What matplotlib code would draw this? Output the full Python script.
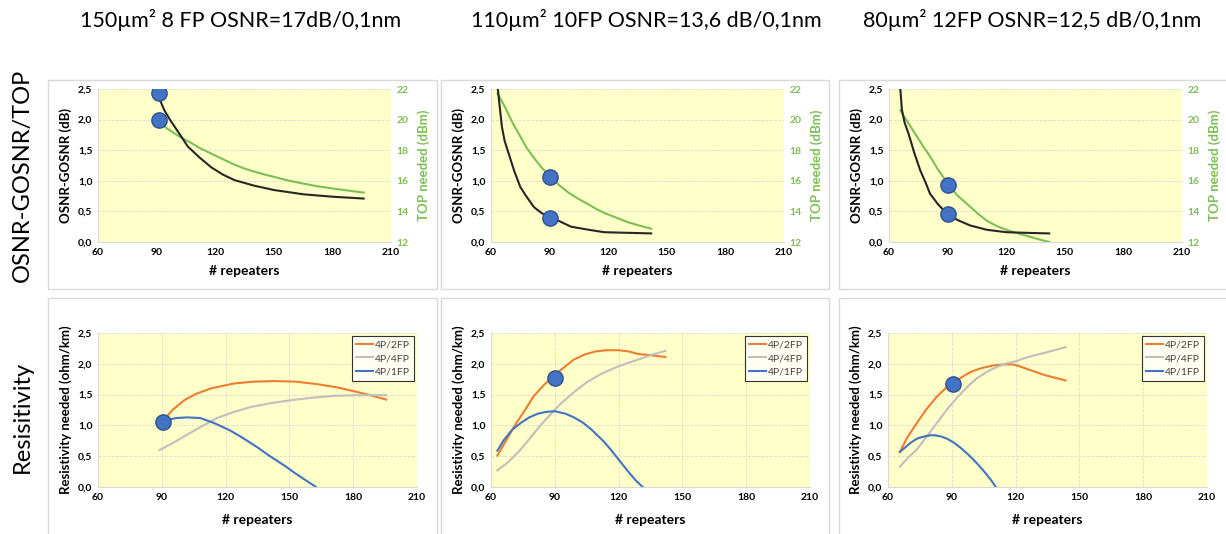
import matplotlib.pyplot as plt
from matplotlib.patches import Rectangle
from matplotlib.ticker import FuncFormatter

plt.rcParams['font.family'] = ['Lato', 'DejaVu Sans']

titles = ['150µm² 8 FP OSNR=17dB/0,1nm',
          '110µm² 10FP OSNR=13,6 dB/0,1nm',
          '80µm² 12FP OSNR=12,5 dB/0,1nm']

# top row: OSNR-GOSNR (black, left axis) and TOP needed (green, right axis)
osnr_x = [
    [91, 92, 94, 97, 101, 106, 112, 118, 124, 130, 140, 150, 165, 180, 196],
    [63.5, 64.5, 65.6, 67, 69, 72, 75, 78, 82, 86, 90.5, 95, 101, 110, 118, 130, 142],
    [65.8, 66.6, 68, 70, 73, 76, 79, 81, 85, 89.7, 95, 101.6, 110, 120, 130, 142],
]
osnr_y = [
    [2.35, 2.30, 2.15, 1.99, 1.80, 1.56, 1.38, 1.22, 1.10, 1.01, 0.92, 0.85, 0.78, 0.74, 0.71],
    [2.50, 2.20, 1.88, 1.65, 1.45, 1.15, 0.90, 0.75, 0.57, 0.47, 0.41, 0.34, 0.25, 0.20, 0.16, 0.15, 0.14],
    [2.50, 2.16, 1.95, 1.77, 1.45, 1.17, 0.95, 0.79, 0.62, 0.46, 0.36, 0.27, 0.20, 0.16, 0.15, 0.14],
]
top_x = [
    [92, 95, 98, 101, 105, 108, 112, 116, 120, 125, 130, 135, 140, 145, 150, 158, 165, 172, 180, 188, 196],
    [63.4, 66, 68, 71, 75, 78, 82, 86, 90.5, 95, 100, 105, 110, 114, 118, 124, 130, 136, 142],
    [65.8, 68, 70, 72.5, 75, 78, 81, 85, 89.7, 95, 101.6, 106, 110, 115, 120, 125, 130, 136, 142],
]
top_y = [
    [19.75, 19.45, 19.2, 18.95, 18.66, 18.45, 18.15, 17.9, 17.65, 17.35, 17.05, 16.8, 16.6, 16.42,
     16.26, 16.0, 15.82, 15.65, 15.5, 15.36, 15.23],
    [21.7, 21.1, 20.6, 19.8, 18.9, 18.2, 17.5, 16.85, 16.26, 15.7, 15.2, 14.8, 14.45, 14.15, 13.9,
     13.6, 13.3, 13.07, 12.87],
    [20.6, 20.15, 19.75, 19.25, 18.75, 18.15, 17.6, 16.75, 15.9, 15.05, 14.3, 13.8, 13.4, 13.05,
     12.8, 12.6, 12.42, 12.2, 12.0],
]
# blue markers (left-axis units)
top_dot_x = [[91, 91], [90, 90], [90, 90]]
top_dot_y = [[2.43, 1.99], [1.07, 0.39], [0.93, 0.45]]

# bottom row: resistivity needed
res_labels = ['4P/2FP', '4P/4FP', '4P/1FP']
res_colors = ['#ED7D31', '#BFBFBF', '#4472C4']
res_x = [
    [
        [91, 95, 100.6, 106, 113, 124, 133, 143, 153, 163, 172, 181, 188, 195.5],
        [89, 95, 100.4, 108, 116, 124, 132, 141, 151, 161, 171, 181, 187, 195.5],
        [92.5, 97, 102, 108, 114.5, 122, 127, 132, 136, 140, 144, 148, 152, 155, 159, 162.5],
    ],
    [
        [63, 67, 71, 76, 80, 85, 90, 95, 99, 104, 109, 114, 120, 125, 129, 135, 142],
        [63, 68, 74, 79, 83, 88, 93, 99, 105, 112, 120, 125, 131, 136, 142],
        [63, 66, 70, 74, 78, 82, 86, 90, 95, 99, 103, 107, 110, 113, 116, 119, 122, 125, 128, 131.3],
    ],
    [
        [65.6, 69, 73.6, 78, 83, 87, 90.4, 95, 99, 104, 109, 114, 118.4, 121, 125, 130, 134.4, 143.5],
        [65.6, 69, 73.6, 78, 83, 88, 93, 98, 102, 107, 112, 116, 120, 124, 128, 135, 143.5],
        [65.6, 68, 70, 72, 74, 77, 80, 82, 85, 88, 91, 94, 97, 100, 103, 106, 108.5, 110.7],
    ],
]
res_y = [
    [
        [1.09, 1.25, 1.41, 1.51, 1.60, 1.68, 1.71, 1.72, 1.71, 1.67, 1.62, 1.55, 1.49, 1.42],
        [0.60, 0.71, 0.82, 0.97, 1.12, 1.22, 1.30, 1.36, 1.41, 1.45, 1.48, 1.49, 1.49, 1.49],
        [1.09, 1.12, 1.13, 1.12, 1.04, 0.92, 0.82, 0.71, 0.62, 0.52, 0.43, 0.34, 0.24, 0.17, 0.08, 0.0],
    ],
    [
        [0.51, 0.75, 0.99, 1.25, 1.47, 1.66, 1.82, 1.96, 2.07, 2.15, 2.20, 2.22, 2.22, 2.20, 2.16, 2.14, 2.11],
        [0.27, 0.40, 0.61, 0.82, 0.99, 1.18, 1.36, 1.54, 1.70, 1.84, 1.96, 2.02, 2.09, 2.15, 2.21],
        [0.59, 0.76, 0.93, 1.04, 1.13, 1.19, 1.22, 1.23, 1.19, 1.13, 1.05, 0.94, 0.84, 0.74, 0.62,
         0.49, 0.36, 0.23, 0.11, 0.0],
    ],
    [
        [0.57, 0.80, 1.04, 1.26, 1.47, 1.60, 1.68, 1.79, 1.87, 1.93, 1.97, 1.99, 1.99, 1.97, 1.92, 1.86, 1.81, 1.73],
        [0.33, 0.46, 0.61, 0.81, 1.04, 1.27, 1.47, 1.65, 1.77, 1.88, 1.96, 2.01, 2.04, 2.09, 2.13, 2.19, 2.27],
        [0.57, 0.64, 0.70, 0.75, 0.79, 0.82, 0.84, 0.84, 0.82, 0.78, 0.72, 0.64, 0.55, 0.45, 0.34, 0.22, 0.11, 0.0],
    ],
]
res_dot_x = [90.5, 90.1, 90.7]
res_dot_y = [1.05, 1.77, 1.67]

W, H = 1226, 534
yellow = '#FFFFC9'
green = '#7CBF55'
dot_face = '#4472C4'
dot_edge = '#2F528F'
comma = FuncFormatter(lambda v, p: f'{v:.1f}'.replace('.', ','))

fig = plt.figure(figsize=(W / 100, H / 100), dpi=100)


def box(x0, y0, x1, y1):
    fig.patches.append(Rectangle((x0 / W, 1 - y1 / H), (x1 - x0) / W, (y1 - y0) / H,
                                 transform=fig.transFigure, fill=False,
                                 edgecolor='#D9D9D9', linewidth=1.0))


def style(ax, pad):
    ax.set_xlim(60, 210)
    ax.set_xticks([60, 90, 120, 150, 180, 210])
    ax.set_ylim(0, 2.5)
    ax.set_yticks([0, 0.5, 1.0, 1.5, 2.0, 2.5])
    ax.yaxis.set_major_formatter(comma)
    for s in ['top', 'right']:
        ax.spines[s].set_visible(False)
    for s in ['left', 'bottom']:
        ax.spines[s].set_color('#D9D9D9')
    ax.tick_params(length=0, labelsize=7.5, pad=4)
    for lab in ax.get_xticklabels() + ax.get_yticklabels():
        lab.set_fontweight('bold')
    ax.set_xlabel('# repeaters', fontsize=10, fontweight='bold', labelpad=pad)


top_x0 = [98, 491, 889]
bot_x0 = [98, 491, 888]
panel_x = [(48, 437), (441, 829), (839, 1240)]
title_cx = [241, 646, 1032]

for i in range(3):
    box(panel_x[i][0], 80, panel_x[i][1], 289)
    box(panel_x[i][0], 298, panel_x[i][1], 560)
    fig.text(title_cx[i] / W, 1 - 20 / H, titles[i], ha='center', va='center', fontsize=15.5)

    # top chart
    ax = fig.add_axes([top_x0[i] / W, 1 - 242 / H, 293 / W, 153 / H])
    ax2 = ax.twinx()
    ax.set_zorder(ax2.get_zorder() + 1)
    ax.patch.set_visible(False)
    ax2.patch.set_visible(True)
    ax2.set_facecolor(yellow)
    style(ax, 6)
    ax2.set_ylim(12, 22)
    ax2.set_yticks([12, 14, 16, 18, 20, 22])
    ax2.tick_params(length=0, labelsize=7.5, labelcolor=green, pad=4)
    for lab in ax2.get_yticklabels():
        lab.set_fontweight('bold')
    for s in ax2.spines.values():
        s.set_visible(False)
    ax2.grid(True, color='#D9D9D9', linestyle='--', linewidth=0.6)
    ax2.plot(top_x[i], top_y[i], color=green, linewidth=1.5)
    ax.plot(osnr_x[i], osnr_y[i], color='#262626', linewidth=1.5)
    ax.plot(top_dot_x[i], top_dot_y[i], 'o', markersize=11, markerfacecolor=dot_face,
            markeredgecolor=dot_edge, markeredgewidth=1, linestyle='none')
    ax.set_ylabel('OSNR-GOSNR (dB)', fontsize=9.5, fontweight='bold', labelpad=4)
    ax2.set_ylabel('TOP needed (dBm)', fontsize=9.5, fontweight='bold', color=green, labelpad=6)

    # bottom chart
    bx = fig.add_axes([bot_x0[i] / W, 1 - 487 / H, 319 / W, 154 / H])
    bx.set_facecolor(yellow)
    style(bx, 9)
    bx.grid(True, color='#D9D9D9', linestyle='--', linewidth=0.6)
    bx.set_axisbelow(True)
    for k in range(3):
        bx.plot(res_x[i][k], res_y[i][k], color=res_colors[k], linewidth=1.5, label=res_labels[k])
    bx.plot(res_dot_x[i], res_dot_y[i], 'o', markersize=11, markerfacecolor=dot_face,
            markeredgecolor=dot_edge, markeredgewidth=1, zorder=5)
    bx.set_ylabel('Resistivity needed (ohm/km)', fontsize=9.5, fontweight='bold', labelpad=4)
    leg = bx.legend(loc='upper right', bbox_to_anchor=(1.0, 1.0), fontsize=7.5, frameon=True,
                    fancybox=False, edgecolor='black', handlelength=1.6, handletextpad=0.2,
                    borderpad=0.4, labelspacing=0.4, borderaxespad=0.3)
    leg.get_frame().set_linewidth(0.8)
    for t in leg.get_texts():
        t.set_color('#404040')

fig.text(22 / W, 1 - 175 / H, 'OSNR-GOSNR/TOP', rotation=90, ha='center', va='center', fontsize=17)
fig.text(22 / W, 1 - 417 / H, 'Resisitivity', rotation=90, ha='center', va='center', fontsize=17)

fig.savefig('out.png', dpi=100)
